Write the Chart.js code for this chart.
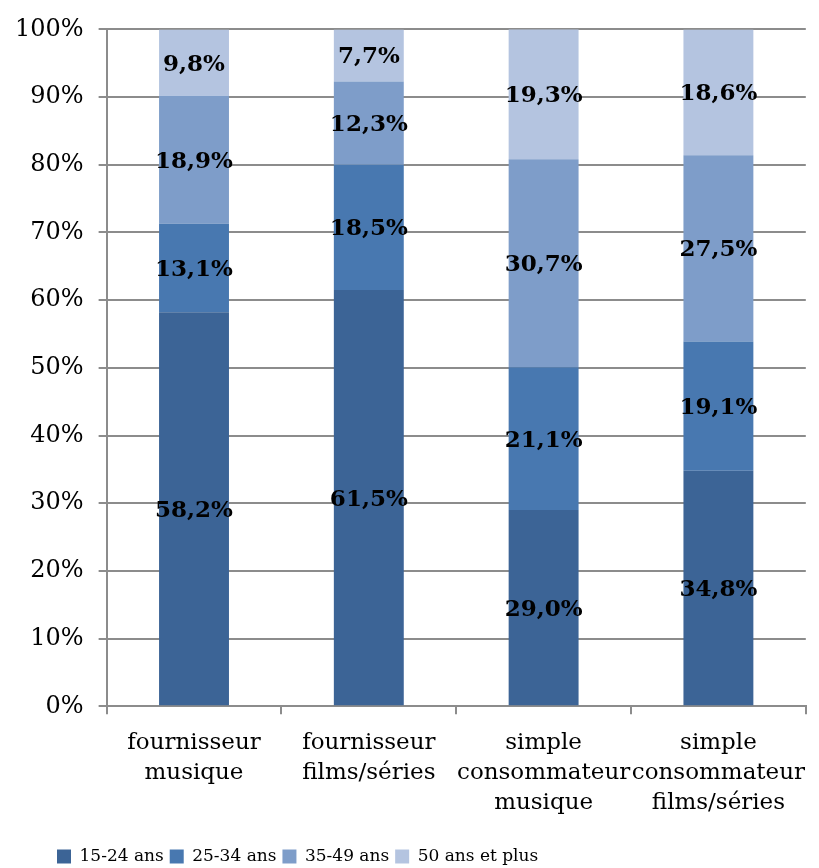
<!DOCTYPE html>
<html>
<head>
<meta charset="utf-8">
<style>
  body { margin: 0; background: #fff; overflow: hidden; }
</style>
</head>
<body>
<canvas id="myChart" width="819" height="875"></canvas>
<script src="https://cdn.jsdelivr.net/npm/chart.js"></script>
<script>
const categories = [
  ['fournisseur', 'musique'],
  ['fournisseur', 'films/séries'],
  ['simple', 'consommateur', 'musique'],
  ['simple', 'consommateur', 'films/séries']
]
const seriesNames = ['15-24 ans', '25-34 ans', '35-49 ans', '50 ans et plus']
const age15_24 = [58.2, 61.5, 29.0, 34.8]
const age25_34 = [13.1, 18.5, 21.1, 19.1]
const age35_49 = [18.9, 12.3, 30.7, 27.5]
const age50plus = [9.8, 7.7, 19.3, 18.6]
const colors = ['#3c6496', '#4878b0', '#7e9dc9', '#b4c4e0']

const serif = "'DejaVu Serif', 'Liberation Serif', serif"

// draws the value in the middle of each bar segment
const segmentLabels = {
  id: 'segmentLabels',
  afterDatasetsDraw(chart){
    const ctx = chart.ctx
    ctx.save()
    ctx.font = 'bold 23px ' + serif
    ctx.fillStyle = '#000'
    ctx.textAlign = 'center'
    ctx.textBaseline = 'middle'
    chart.data.datasets.forEach((ds, i)=>{
      chart.getDatasetMeta(i).data.forEach((bar, j)=>{
        const y = (bar.y + bar.base) / 2
        ctx.fillText(ds.data[j].toFixed(1).replace('.', ',') + '%', bar.x, y + 2)
      })
    })
    ctx.restore()
  }
}

// the legend in the source starts a bit in from the left edge
const legendShift = {
  id: 'legendShift',
  afterLayout(chart){
    chart.legend.left = 51
    chart.legend.right = 819
  }
}

const data = [age15_24, age25_34, age35_49, age50plus]
const config = {
  type: 'bar',
  data: {
    labels: categories,
    datasets: seriesNames.map((name, i)=>({
      label: name,
      data: data[i],
      backgroundColor: colors[i],
      barPercentage: 0.4,
      categoryPercentage: 1
    }))
  },
  options: {
    responsive: false,
    animation: false,
    layout: { padding: { left: 0, right: 0, top: -2, bottom: 0 } },
    plugins: {
      legend: {
        position: 'bottom',
        align: 'start',
        labels: {
          color: '#000',
          boxWidth: 14,
          boxHeight: 14,
          padding: 6,
          font: { family: serif, size: 17 }
        }
      },
      tooltip: { enabled: false }
    },
    scales: {
      x: {
        stacked: true,
        grid: {
          display: true,
          offset: true,
          drawOnChartArea: false,
          color: '#8c8c8c',
          lineWidth: 2,
          tickLength: 8
        },
        border: { color: '#8c8c8c', width: 2 },
        ticks: {
          color: '#000',
          maxRotation: 0,
          autoSkip: false,
          padding: 14,
          font: { family: serif, size: 23, lineHeight: 1.3 }
        },
        afterFit: scale => { scale.height += 10 }
      },
      y: {
        stacked: true,
        min: 0,
        max: 100,
        grid: {
          color: '#8c8c8c',
          lineWidth: 2,
          tickLength: 8
        },
        border: { color: '#8c8c8c', width: 2 },
        ticks: {
          stepSize: 10,
          color: '#000',
          padding: 15,
          font: { family: serif, size: 24 },
          callback: v => v + '%'
        }
      }
    }
  },
  plugins: [segmentLabels, legendShift]
}
new Chart(document.getElementById('myChart'), config)
</script>
</body>
</html>
